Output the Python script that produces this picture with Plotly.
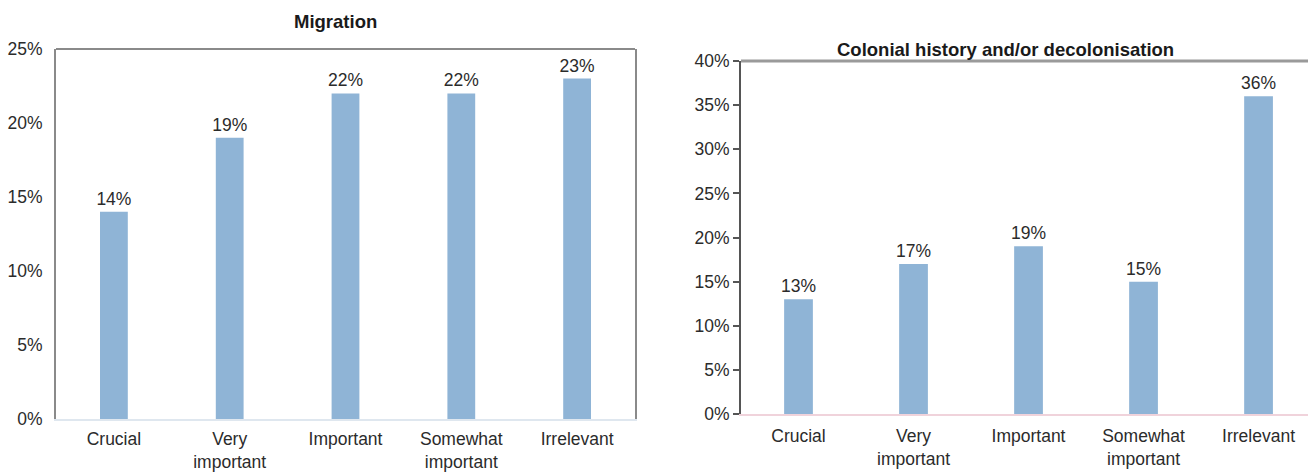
import plotly.graph_objects as go

categories = ["Crucial", "Very<br>important", "Important", "Somewhat<br>important", "Irrelevant"]
migration = [14, 19, 22, 22, 23]
colonial = [13, 17, 19, 15, 36]
titles = ["Migration", "Colonial history and/or decolonisation"]
y1_ticks = [0, 5, 10, 15, 20, 25]
y2_ticks = [0, 5, 10, 15, 20, 25, 30, 35, 40]

W, H = 1308, 473
bar_color = "#8fb4d6"
font_family = "Liberation Sans, Arial, sans-serif"
txt = "#2b2b2b"
FS = 17.5

fig = go.Figure()
fig.add_trace(go.Bar(
    x=categories, y=migration, xaxis="x", yaxis="y",
    marker=dict(color=bar_color, line=dict(width=0)),
    text=[f"{v}%" for v in migration], textposition="outside",
    textfont=dict(size=FS, color=txt, family=font_family),
    constraintext="none", cliponaxis=False, width=0.24,
))
fig.add_trace(go.Bar(
    x=categories, y=colonial, xaxis="x2", yaxis="y2",
    marker=dict(color=bar_color, line=dict(width=0)),
    text=[f"{v}%" for v in colonial], textposition="outside",
    textfont=dict(size=FS, color=txt, family=font_family),
    constraintext="none", cliponaxis=False, width=0.25,
))

def px_x(p):
    return p / W

def px_y(p):
    return 1 - p / H

fig.update_layout(
    width=W, height=H,
    margin=dict(l=0, r=0, t=0, b=0, autoexpand=False),
    paper_bgcolor="white", plot_bgcolor="white",
    showlegend=False,
    font=dict(family=font_family, size=FS, color=txt),
    xaxis=dict(domain=[px_x(56), px_x(635)], anchor="y", range=[-0.5, 4.5],
               showgrid=False, showline=True, linecolor="#dfe7ef", linewidth=2,
               ticks="", ticklabelstandoff=3, automargin=False,
               tickfont=dict(size=FS, color=txt)),
    yaxis=dict(domain=[px_y(419), px_y(49)], anchor="x", range=[0, 25],
               tickmode="array", tickvals=y1_ticks,
               ticktext=[f"{v}%" for v in y1_ticks],
               showgrid=False, zeroline=False, automargin=False,
               showline=True, linecolor="#8a8a8a", linewidth=2, mirror=True,
               ticks="", ticklabelstandoff=8,
               tickfont=dict(size=FS, color=txt)),
    xaxis2=dict(domain=[px_x(741), 1], anchor="y2", range=[-0.5, 4.43],
                showgrid=False, showline=True, linecolor="#f0d3db", linewidth=2,
                ticks="", ticklabelstandoff=5, automargin=False,
                tickfont=dict(size=FS, color=txt)),
    yaxis2=dict(domain=[px_y(414), px_y(61)], anchor="x2", range=[0, 40],
                tickmode="array", tickvals=y2_ticks,
                ticktext=[f"{v}%" for v in y2_ticks],
                showgrid=False, zeroline=False, automargin=False,
                showline=True, linecolor="#555555", linewidth=2,
                ticks="outside", ticklen=6, tickwidth=2, tickcolor="#555555",
                tickfont=dict(size=FS, color=txt)),
)

# top frame lines
fig.add_shape(type="line", xref="x domain", yref="y domain", x0=0, x1=1, y0=1, y1=1,
              line=dict(color="#8a8a8a", width=2))
fig.add_shape(type="line", xref="x2 domain", yref="y2 domain", x0=0, x1=1, y0=1, y1=1,
              line=dict(color="#9a9a9a", width=3))

fig.add_annotation(text=f"<b>{titles[0]}</b>", xref="paper", yref="paper",
                   x=px_x(335), y=px_y(22), xanchor="center", yanchor="middle",
                   showarrow=False,
                   font=dict(size=18.5, color="#1a1a1a", family=font_family))
fig.add_annotation(text=f"<b>{titles[1]}</b>", xref="paper", yref="paper",
                   x=px_x(1005), y=px_y(50), xanchor="center", yanchor="middle",
                   showarrow=False,
                   font=dict(size=18.5, color="#1a1a1a", family=font_family))

fig.write_html("out.html")
